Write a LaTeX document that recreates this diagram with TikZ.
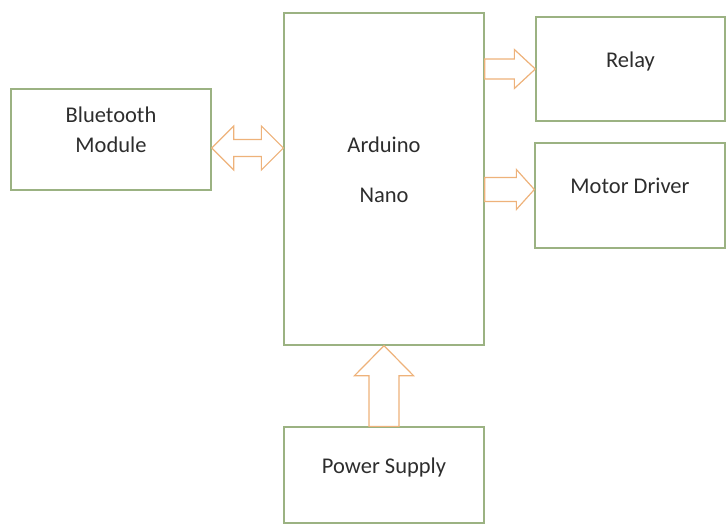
\documentclass[tikz,border=0pt]{standalone}
\usepackage{fontspec}
\setmainfont{Carlito}
\usetikzlibrary{calc}
\definecolor{boxgreen}{RGB}{155,178,130}
\definecolor{arrorange}{RGB}{238,178,122}
\definecolor{txtgray}{RGB}{45,45,45}

\begin{document}
\begin{tikzpicture}[x=1pt, y=-1pt, font=\fontsize{22.5}{30}\selectfont, text=txtgray,
	   box/.style={draw=boxgreen, line width=1.3pt, align=center, inner sep=0pt, text depth=19pt},
	   % hollow block arrow: shaft half width, head half width, head length
	   fat/.style n args={3}{draw=arrorange, line width=1.2pt, fill=white, line join=miter,
	     to path={($(\tikztotarget)!#3!(\tikztostart)$) coordinate (hb)
	       ($(\tikztostart)!#1!90:(\tikztotarget)$) -- ($(hb)!#1!90:(\tikztotarget)$)
	       -- ($(hb)!#2!90:(\tikztotarget)$) -- (\tikztotarget)
	       -- ($(hb)!#2!-90:(\tikztotarget)$) -- ($(hb)!#1!-90:(\tikztotarget)$)
	       -- ($(\tikztostart)!#1!-90:(\tikztotarget)$) -- cycle}},
	   dfat/.style n args={3}{draw=arrorange, line width=1.2pt, fill=white, line join=miter,
	     to path={($(\tikztostart)!#3!(\tikztotarget)$) coordinate (ha)
	       ($(\tikztotarget)!#3!(\tikztostart)$) coordinate (hb)
	       (\tikztostart) -- ($(ha)!#2!90:(\tikztotarget)$) -- ($(ha)!#1!90:(\tikztotarget)$)
	       -- ($(hb)!#1!90:(\tikztotarget)$) -- ($(hb)!#2!90:(\tikztotarget)$) -- (\tikztotarget)
	       -- ($(hb)!#2!-90:(\tikztotarget)$) -- ($(hb)!#1!-90:(\tikztotarget)$)
	       -- ($(ha)!#1!-90:(\tikztotarget)$) -- ($(ha)!#2!-90:(\tikztotarget)$) -- cycle}}]
	  \useasboundingbox (0,0) rectangle (727,527);
	  \node[box, minimum width=200pt, minimum height=101pt] (bt) at (111,139.5) {Bluetooth\\Module};
	  \node[box, minimum width=200pt, minimum height=332pt] (ard) at (384,179) {Arduino\\[20pt]Nano};
	  \node[box, minimum width=189pt, minimum height=104pt] (rel) at (630.5,69) {Relay};
	  \node[box, minimum width=190pt, minimum height=105pt] (mot) at (630,195.5) {Motor Driver};
	  \node[box, minimum width=200pt, minimum height=96pt] (pwr) at (384,475) {Power Supply};
	  \coordinate (btr) at ([yshift=-8.5pt]bt.east);
	  \coordinate (mtr) at ([yshift=6pt]mot.west);
	  \draw[dfat={8.5pt}{22pt}{22pt}] (btr) to (btr -| ard.west);
	  \draw[fat={10pt}{19.5pt}{21pt}] (ard.east |- rel.west) to (rel.west);
	  \draw[fat={12pt}{20pt}{18pt}] (ard.east |- mtr) to (mtr);
	  \draw[fat={15pt}{29.5pt}{30pt}] (pwr.north) to (ard.south);
	\end{tikzpicture}
\end{document}
